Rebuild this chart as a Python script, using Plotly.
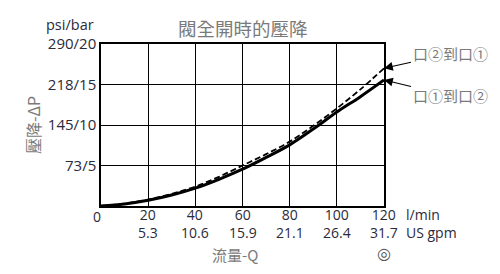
import plotly.graph_objects as go

# ---- data ----
flow_lpm = [0, 10, 20, 30, 40, 50, 60, 70, 80, 90, 100, 110, 120]
dp_1_to_2 = [0, 0.25, 0.7, 1.35, 2.2, 3.3, 4.55, 6.0, 7.55, 9.5, 11.6, 13.5, 15.56]
dp_2_to_1 = [0, 0.3, 0.8, 1.5, 2.4, 3.6, 5.0, 6.4, 7.95, 9.9, 12.05, 14.4, 17.0]

x_ticks = [0, 20, 40, 60, 80, 100, 120]
x_tick_lpm = ["0", "20", "40", "60", "80", "100", "120"]
x_tick_gpm = ["", "5.3", "10.6", "15.9", "21.1", "26.4", "31.7"]
y_ticks = [5, 10, 15, 20]
y_tick_text = ["73/5", "145/10", "218/15", "290/20"]

title = "閥全開時的壓降"
x_title = "流量-Q"
y_title = "壓降-ΔP"
label_2_to_1 = "口②到口①"
label_1_to_2 = "口①到口②"

LAT = "Open Sans"
CJK = "Noto Sans CJK TC"
TXT = "#2a2a3a"
GRAY = "#7a7a7a"

fig = go.Figure()
fig.add_trace(go.Scatter(x=flow_lpm, y=dp_2_to_1, mode="lines", line_shape="spline",
                         line=dict(color="black", width=1.8, dash="6px,3px"), showlegend=False))
fig.add_trace(go.Scatter(x=flow_lpm, y=dp_1_to_2, mode="lines", line_shape="spline",
                         line=dict(color="black", width=3), showlegend=False))

ann = []
# x tick labels: l/min row and US gpm row in one two-line label
for xv, t1, t2 in zip(x_ticks, x_tick_lpm, x_tick_gpm):
    if t2:
        ann.append(dict(x=xv, y=-0.111, xref="x", yref="paper", text=t1 + "<br>" + t2,
                        showarrow=False, font=dict(family=LAT, size=14, color=TXT),
                        xanchor="center", yanchor="middle"))
    else:
        ann.append(dict(x=xv, y=-0.062, xref="x", yref="paper", text=t1, showarrow=False,
                        xshift=-4, font=dict(family=LAT, size=14, color=TXT),
                        xanchor="center", yanchor="middle"))
ann.append(dict(x=1.072, y=-0.111, xref="paper", yref="paper", text="l/min<br>US gpm",
                showarrow=False, align="left", font=dict(family=LAT, size=14, color=TXT),
                xanchor="left", yanchor="middle"))
ann.append(dict(x=-0.017, y=1.12, xref="paper", yref="paper", text="psi/bar", showarrow=False,
                font=dict(family=LAT, size=14.5, color=TXT), xanchor="right", yanchor="middle"))
ann.append(dict(x=0.5, y=1.1, xref="paper", yref="paper", text=title, showarrow=False,
                font=dict(family=CJK, size=18.5, color=GRAY), xanchor="center", yanchor="middle"))
ann.append(dict(x=0.475, y=-0.3, xref="paper", yref="paper", text=x_title, showarrow=False,
                font=dict(family=CJK, size=15, color=GRAY), xanchor="center", yanchor="middle"))
ann.append(dict(x=-0.24, y=0.5, xref="paper", yref="paper", text=y_title, showarrow=False,
                textangle=-90, font=dict(family=CJK, size=16, color=GRAY), xanchor="center", yanchor="middle"))
ann.append(dict(x=1.0, y=-0.295, xref="paper", yref="paper", text="◎", showarrow=False,
                font=dict(family="DejaVu Sans", size=16, color="#555"), xanchor="center", yanchor="middle"))
# arrows to curve ends
ann.append(dict(x=flow_lpm[-1], y=dp_2_to_1[-1], xref="x", yref="y", text=label_2_to_1,
                showarrow=True, ax=66, ay=-15, arrowhead=2, arrowsize=1.6, arrowwidth=1.1,
                arrowcolor="black", font=dict(family=CJK, size=15, color=GRAY)))
ann.append(dict(x=flow_lpm[-1], y=dp_1_to_2[-1], xref="x", yref="y", text=label_1_to_2,
                showarrow=True, ax=66, ay=16, arrowhead=2, arrowsize=1.6, arrowwidth=1.1,
                arrowcolor="black", font=dict(family=CJK, size=15, color=GRAY)))

fig.update_layout(
    width=500, height=274,
    margin=dict(l=101, r=116, t=44, b=68),
    paper_bgcolor="white", plot_bgcolor="white",
    annotations=ann,
    xaxis=dict(range=[0, 120], tickvals=x_ticks, showticklabels=False, showgrid=True,
               gridcolor="black", gridwidth=1.3, showline=True, mirror=True, linecolor="black",
               linewidth=1.5, zeroline=False, ticks=""),
    yaxis=dict(range=[0, 20], tickvals=y_ticks, ticktext=y_tick_text, showgrid=True,
               gridcolor="black", gridwidth=1.3, showline=True, mirror=True, linecolor="black",
               linewidth=1.5, zeroline=False, ticks="", tickfont=dict(family=LAT, size=15, color=TXT)),
)

fig.write_html("out.html")
